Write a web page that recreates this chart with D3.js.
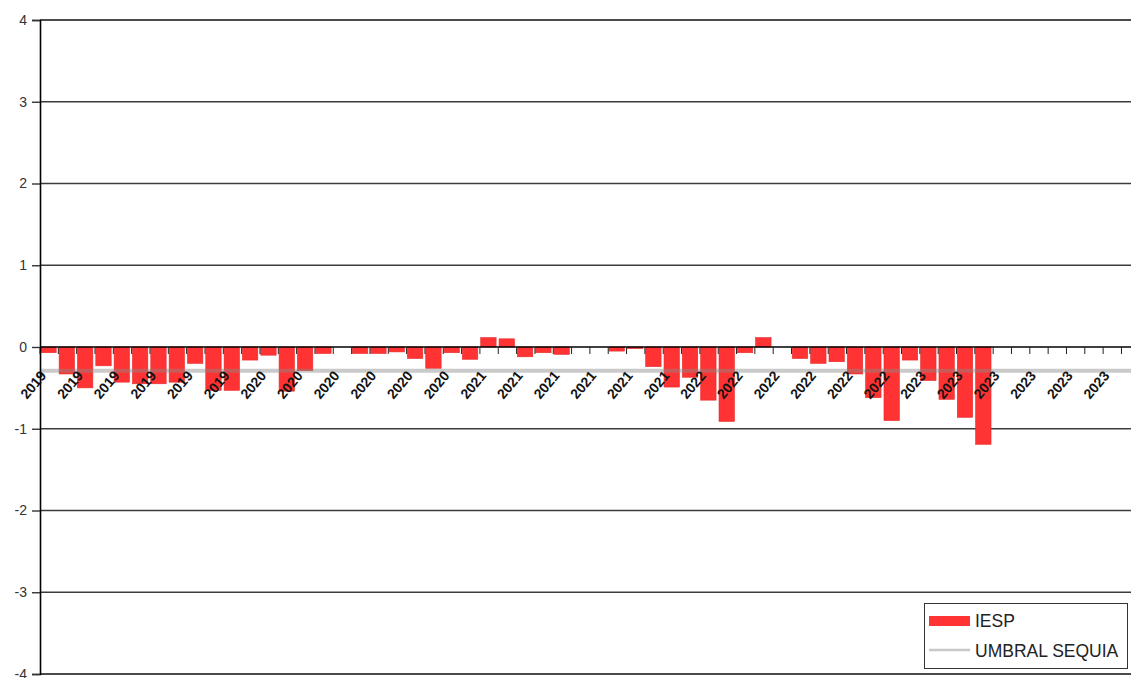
<!DOCTYPE html>
<html>
<head>
<meta charset="utf-8">
<script src="https://cdn.jsdelivr.net/npm/d3@7"></script>
<style>
  html, body { margin: 0; padding: 0; background: #fff; }
  svg { display: block; }
</style>
</head>
<body>
<svg id="chart" width="1131" height="678"></svg>
<script>
// ---- data ----
const years = ["2019", "2020", "2021", "2022", "2023"];
const monthsOfYear = ["01","02","03","04","05","06","07","08","09","10","11","12"];
const iesp2019 = [-0.07, -0.33, -0.50, -0.23, -0.43, -0.45, -0.45, -0.43, -0.20, -0.53, -0.53, -0.16];
const iesp2020 = [-0.10, -0.54, -0.29, -0.08, 0.00, -0.08, -0.08, -0.06, -0.14, -0.26, -0.07, -0.15];
const iesp2021 = [0.115, 0.10, -0.12, -0.07, -0.09, 0.00, 0.00, -0.05, -0.02, -0.24, -0.49, -0.37];
const iesp2022 = [-0.65, -0.91, -0.07, 0.115, 0.00, -0.14, -0.20, -0.18, -0.33, -0.62, -0.90, -0.16];
const iesp2023 = [-0.41, -0.64, -0.86, -1.19, null, null, null, null, null, null, null, null];
const umbralSequia = -0.29;
const yTicks = [4, 3, 2, 1, 0, -1, -2, -3, -4];
const seriesNames = ["IESP", "UMBRAL SEQUIA"];

// build table
const iespByYear = [iesp2019, iesp2020, iesp2021, iesp2022, iesp2023];
const data = [];
years.forEach((yr, i) => monthsOfYear.forEach((m, j) => {
  data.push({ key: yr + "-" + m, year: yr, idx: data.length, value: iespByYear[i][j] });
}));

// ---- layout ----
const svg = d3.select("#chart");
const mLeft = 40, mTop = 20, mBottom = 674;
const x = d3.scaleBand().domain(data.map(d => d.key)).range([mLeft, mLeft + 60 * 18.33]).padding(0);
const y = d3.scaleLinear().domain([-4, 4]).range([mBottom, mTop]);
const bw = x.bandwidth();

// gridlines
svg.append("g").selectAll("line").data(yTicks.filter(t => t !== 0)).join("line")
  .attr("x1", mLeft).attr("x2", 1131)
  .attr("y1", d => y(d)).attr("y2", d => y(d))
  .attr("stroke", d => (d === 4 || d === -4) ? "#111" : "#3c3c3c")
  .attr("stroke-width", 1.7);

// bars
svg.append("g").selectAll("rect").data(data.filter(d => d.value !== null && d.value !== 0)).join("rect")
  .attr("x", d => x(d.key) + 0.8)
  .attr("width", bw * 0.84)
  .attr("y", d => y(Math.max(0, d.value)))
  .attr("height", d => Math.abs(y(d.value) - y(0)))
  .attr("fill", "#ff3333")
  .attr("stroke", "#e82a2a")
  .attr("stroke-width", 0.6);

// umbral line
svg.append("line")
  .attr("x1", mLeft).attr("x2", 1131)
  .attr("y1", y(umbralSequia)).attr("y2", y(umbralSequia))
  .attr("stroke", "#8a8a8a").attr("stroke-opacity", 0.45)
  .attr("stroke-width", 4);

// x axis (zero line) with ticks at category boundaries
const xAxisG = svg.append("g");
xAxisG.append("line")
  .attr("x1", mLeft).attr("x2", 1131)
  .attr("y1", y(0)).attr("y2", y(0))
  .attr("stroke", "#000").attr("stroke-width", 1.3);
xAxisG.selectAll("line.tick").data(data).join("line").attr("class", "tick")
  .attr("x1", d => x(d.key)).attr("x2", d => x(d.key))
  .attr("y1", y(0)).attr("y2", y(0) + 7)
  .attr("stroke", "#222").attr("stroke-width", 1);
xAxisG.selectAll("text").data(data.filter(d => d.idx % 2 === 0)).join("text")
  .attr("transform", d => `translate(${x(d.key) + 7},${y(0) + 29}) rotate(-50)`)
  .attr("text-anchor", "end")
  .attr("font-family", "Liberation Sans, Arial, sans-serif")
  .attr("font-size", 14)
  .attr("font-weight", "bold")
  .attr("fill", "#111")
  .text(d => d.year);

// y axis
const yAxis = d3.axisLeft(y).tickValues(yTicks).tickSize(8).tickFormat(d3.format("d"));
const yg = svg.append("g").attr("transform", `translate(${mLeft},0)`).call(yAxis);
yg.select(".domain").attr("stroke", "#000").attr("stroke-width", 1.6);
yg.selectAll(".tick line").attr("stroke", "#333").attr("stroke-width", 1.4);
yg.selectAll(".tick text")
  .attr("x", -13)
  .attr("font-family", "Liberation Sans, Arial, sans-serif")
  .attr("font-size", 14)
  .attr("fill", "#333")
  .text(d => d < 0 ? "-" + Math.abs(d) : d);

// legend
const lg = svg.append("g");
lg.append("rect").attr("x", 924.5).attr("y", 603.5).attr("width", 203).attr("height", 65)
  .attr("fill", "#fff").attr("stroke", "#333").attr("stroke-width", 1);
lg.append("rect").attr("x", 929).attr("y", 616).attr("width", 41).attr("height", 10)
  .attr("fill", "#ff3333");
lg.append("line").attr("x1", 929).attr("x2", 970).attr("y1", 650).attr("y2", 650)
  .attr("stroke", "#c8c8c8").attr("stroke-width", 2.5);
lg.selectAll("text").data(seriesNames).join("text")
  .attr("x", 975)
  .attr("y", (d, i) => 627 + i * 29.5)
  .attr("font-family", "Liberation Sans, Arial, sans-serif")
  .attr("font-size", 17.5)
  .attr("fill", "#222")
  .text(d => d);
</script>
</body>
</html>
